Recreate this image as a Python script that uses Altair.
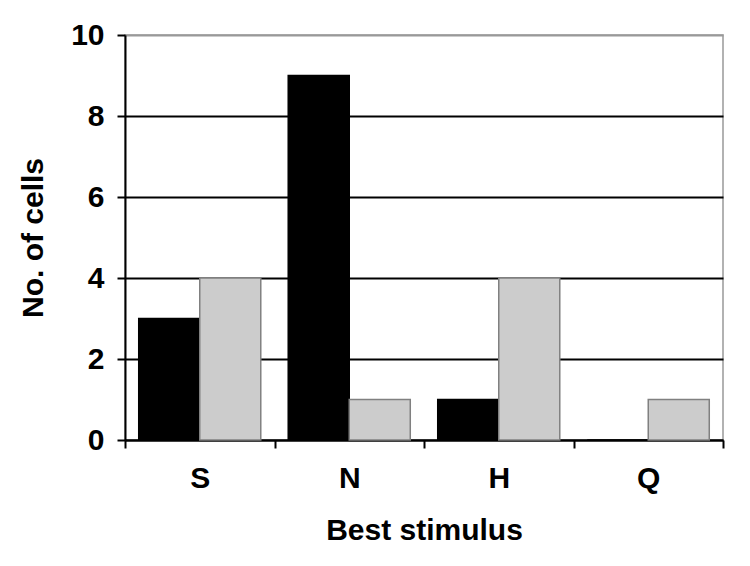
import altair as alt
import pandas as pd

categories = ["S", "N", "H", "Q"]
series_names = ["Series 1", "Series 2"]
series1 = [3, 9, 1, 0]
series2 = [4, 1, 4, 1]
y_ticks = [0, 2, 4, 6, 8, 10]

rows = []
for c, a, b in zip(categories, series1, series2):
    rows.append({"stim": c, "series": series_names[0], "value": a})
    rows.append({"stim": c, "series": series_names[1], "value": b})
df = pd.DataFrame(rows)

FONT = "Liberation Sans"

bars = alt.Chart(df).mark_bar(strokeWidth=1.5).encode(
    x=alt.X(
        "stim:N",
        sort=categories,
        scale=alt.Scale(paddingInner=0, paddingOuter=0),
        axis=alt.Axis(
            title="Best stimulus",
            labelAngle=0,
            tickBand="extent",
            labelPadding=15,
            titlePadding=22,
        ),
    ),
    xOffset=alt.XOffset(
        "series:N",
        sort=series_names,
        scale=alt.Scale(paddingInner=0, paddingOuter=0.225),
    ),
    y=alt.Y(
        "value:Q",
        scale=alt.Scale(domain=[0, 10], nice=False),
        axis=alt.Axis(
            title="No. of cells",
            values=y_ticks,
            labelPadding=13,
            titlePadding=22,
            gridColor={"condition": {"test": "datum.value === 10", "value": "#999999"}, "value": "black"},
        ),
    ),
    color=alt.Color(
        "series:N",
        scale=alt.Scale(domain=series_names, range=["black", "#cccccc"]),
        legend=None,
    ),
    stroke=alt.Stroke(
        "series:N",
        scale=alt.Scale(domain=series_names, range=["black", "#808080"]),
        legend=None,
    ),
)

chart = bars.properties(
    width=598,
    height=405,
    autosize=alt.AutoSizeParams(type="none"),
    padding={"left": 117, "top": 27, "right": 19, "bottom": 115},
).configure_view(
    stroke="#999999",
    strokeWidth=1.5,
).configure_axis(
    labelFont=FONT,
    labelFontWeight="bold",
    labelFontSize=30,
    labelColor="black",
    titleFont=FONT,
    titleFontWeight="bold",
    titleFontSize=30,
    titleColor="black",
    domainColor="black",
    domainWidth=2,
    tickColor="black",
    tickWidth=2,
    tickSize=8,
    gridWidth=1.8,
)

chart.save("out.html", embed_options={"renderer": "svg", "actions": False})
